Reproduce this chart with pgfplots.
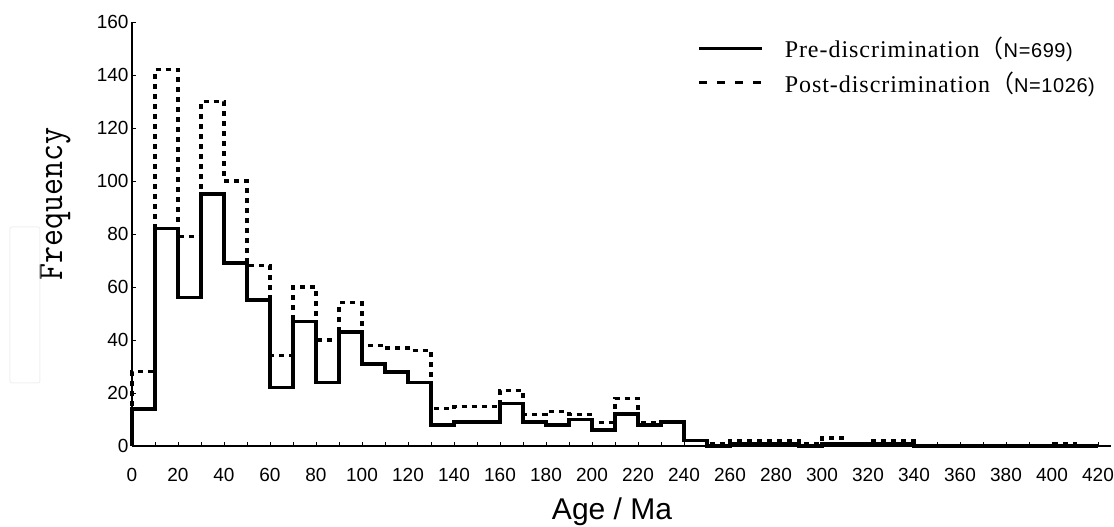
\documentclass[border=0pt]{standalone}
\usepackage{fontspec}
\setmainfont{Liberation Sans}
\newfontfamily\legserif{Liberation Serif}[LetterSpace=4]
\newfontfamily\legsans{Liberation Sans}[LetterSpace=3]
\newfontfamily\cjk{Noto Sans CJK SC}
\usepackage{graphicx}
\usepackage{pgfplots}
\usepackage{pgfplotstable}
\pgfplotsset{compat=1.18}

\pgfplotstableread{
x pre post
0 0 0
0 14 28
10 82 142
20 56 79
30 95 130
40 69 100
50 55 68
60 22 34
70 47 60
80 24 40
90 43 54
100 31 38
110 28 37
120 24 36
130 8 14
140 9 15
150 9 15
160 16 21
170 9 12
180 8 13
190 10 12
200 6 9
210 12 18
220 8 9
230 9 9
240 2 2
250 0 1
260 1 2
270 1 2
280 1 2
290 0 1
300 1 3
310 1 1
320 1 2
330 1 2
340 0 0
350 0 0
360 0 0
370 0 0
380 0 0
390 0 0
400 0 1
410 0 0
420 0 0
}\data

\begin{document}
\begin{tikzpicture}
\useasboundingbox (-132pt,-81pt) rectangle (982pt,446pt);
\begin{axis}[
  scale only axis,
  width=978.65pt, height=424pt,
  xmin=0, xmax=425.5, ymin=0, ymax=160,
  axis lines*=left,
  axis line style={line width=2.8pt, black},
  clip=false,
  xtick={0,20,...,420},
  minor xtick={10,30,...,410},
  ytick={0,20,...,160},
  tick align=inside,
  major tick length=4pt, minor tick length=4pt,
  every tick/.style={line width=0.8pt, black},
  tick label style={font=\fontsize{19}{19}\selectfont},
  /pgf/number format/assume math mode=true,
  xticklabel style={yshift=-19pt},
  yticklabel style={xshift=0pt},
  xlabel={Age / Ma},
  xlabel style={at={(axis description cs:0.4905,-0.1745)}, anchor=base, font=\fontsize{30}{30}\selectfont},
  ylabel={\scalebox{1}[1.12]{\ttfamily\fontsize{33}{33}\selectfont Frequency}},
  ylabel style={at={(axis description cs:-0.0787,0.5708)}, anchor=center, rotate=0},
  legend image code/.code={\draw[#1] (0pt,0pt) -- (63pt,0pt);},
  legend cell align=left,
  legend style={draw=none, fill=none, at={(axis description cs:0.5774,0.8974)}, anchor=west,
    inner sep=0pt, row sep=8pt, column sep=19pt, font=\fontsize{24}{28}\selectfont},
]
\addplot[forget plot, const plot mark left, black, line width=3.2pt, dash pattern=on 5pt off 5pt] table[x=x, y=post] {\data};
\addplot[forget plot, const plot mark left, black, line width=3.5pt] table[x=x, y=pre] {\data};
\addlegendimage{black, line width=3.5pt}
\addlegendentry{{\legserif Pre-discrimination}{\cjk （}{\legsans\fontsize{20}{20}\selectfont N=699)}}
\addlegendimage{black, line width=3.5pt, dash pattern=on 8pt off 10pt}
\addlegendentry{{\legserif Post-discrimination}{\cjk （}{\legsans\fontsize{20}{20}\selectfont N=1026)}}
\end{axis}
\draw[gray!12, line width=1pt, rounded corners=2pt] (-122pt,63pt) rectangle (-92pt,219pt);
\end{tikzpicture}
\end{document}
